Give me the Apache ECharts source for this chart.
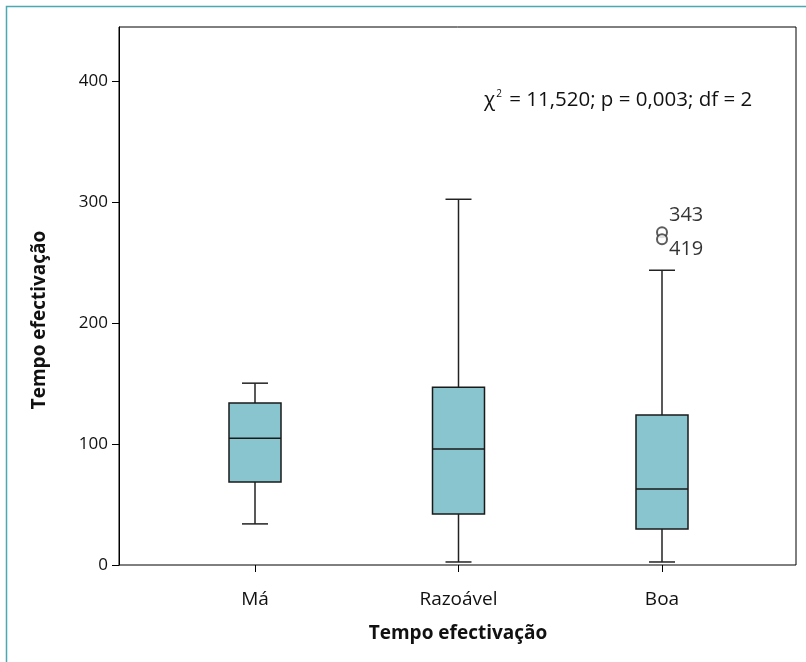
<!DOCTYPE html>
<html>
<head>
<meta charset="utf-8">
<script src="https://cdn.jsdelivr.net/npm/echarts@6/dist/echarts.min.js"></script>
<style>
  html, body { margin: 0; padding: 0; background: #fff; }
  #main { width: 806px; height: 662px; }
</style>
</head>
<body>
<div id="main"></div>
<script>
// box statistics per category
const categories = ['Má', 'Razoável', 'Boa'];
const lowWhisker = [34, 2.5, 2.5];
const q1 = [68.6, 42.1, 29.8];
const median = [104.9, 95.9, 62.8];
const q3 = [133.9, 147.1, 124];
const highWhisker = [150.4, 302.5, 243.8];

// outliers (Boa) with their case numbers
const outlierCat = [2, 2];
const outlierVal = [275.2, 269.4];
const outlierCase = ['343', '419'];

const yTicks = [0, 100, 200, 300, 400];

const FONT = '"Open Sans", "Noto Sans", sans-serif';
const boxData = categories.map((c, i) => [i, lowWhisker[i], q1[i], median[i], q3[i], highWhisker[i]]);

const myChart = echarts.init(document.getElementById('main'));

function renderBox(params, api) {
    const x = api.coord([api.value(0), 0])[0];
    const yLow = api.coord([api.value(0), api.value(1)])[1];
    const yQ1 = api.coord([api.value(0), api.value(2)])[1];
    const yMed = api.coord([api.value(0), api.value(3)])[1];
    const yQ3 = api.coord([api.value(0), api.value(4)])[1];
    const yHigh = api.coord([api.value(0), api.value(5)])[1];
    const half = 26, cap = 13;
    const line = { stroke: '#222', lineWidth: 1.5 };
    return {
        type: 'group',
        children: [
            { type: 'line', shape: { x1: x, y1: yHigh, x2: x, y2: yQ3 }, style: line },
            { type: 'line', shape: { x1: x, y1: yQ1, x2: x, y2: yLow }, style: line },
            { type: 'line', shape: { x1: x - cap, y1: yHigh, x2: x + cap, y2: yHigh }, style: line },
            { type: 'line', shape: { x1: x - cap, y1: yLow, x2: x + cap, y2: yLow }, style: line },
            { type: 'rect', shape: { x: x - half, y: yQ3, width: half * 2, height: yQ1 - yQ3 },
              style: { fill: '#89c5ce', stroke: '#1a1a1a', lineWidth: 1.5 } },
            { type: 'line', shape: { x1: x - half, y1: yMed, x2: x + half, y2: yMed },
              style: { stroke: '#1a1a1a', lineWidth: 1.5 } }
        ]
    };
}

myChart.setOption({
    backgroundColor: '#fff',
    animation: false,
    grid: [
        { left: 119, top: 27, width: 677, height: 538, show: true, borderColor: '#000', borderWidth: 1, containLabel: false },
        { left: 153.25, top: 27, width: 610.5, height: 538, containLabel: false }
    ],
    xAxis: [
        { gridIndex: 0, type: 'value', min: 0, max: 1, show: false },
        {
            gridIndex: 1, type: 'category', data: categories,
            axisLine: { show: false },
            axisTick: { show: true, alignWithLabel: true, length: 7, lineStyle: { color: '#000' } },
            axisLabel: { color: '#111', fontSize: 19, fontFamily: FONT, margin: 25 },
            splitLine: { show: false }
        }
    ],
    yAxis: [
        {
            gridIndex: 0, type: 'value', min: 0, max: 445, interval: 100,
            axisLine: { show: true, lineStyle: { color: '#000' } },
            axisTick: { show: true, length: 7, lineStyle: { color: '#000' }, customValues: yTicks },
            axisLabel: { color: '#111', fontSize: 17, fontFamily: FONT, margin: 11, customValues: yTicks },
            splitLine: { show: false }
        },
        { gridIndex: 1, type: 'value', min: 0, max: 445, show: false }
    ],
    series: [
        {
            type: 'custom', xAxisIndex: 1, yAxisIndex: 1,
            renderItem: renderBox,
            encode: { x: 0, y: [1, 2, 3, 4, 5] },
            data: boxData
        },
        {
            type: 'scatter', xAxisIndex: 1, yAxisIndex: 1,
            symbol: 'emptyCircle', symbolSize: 10,
            itemStyle: { color: '#333', borderColor: '#333', borderWidth: 1 },
            z: 5,
            data: outlierVal.map((v, i) => ({
                value: [outlierCat[i], v],
                label: {
                    show: true, position: 'right', distance: 1,
                    offset: [0, i === 0 ? -17 : 10],
                    formatter: outlierCase[i],
                    color: '#000', fontSize: 20, fontFamily: FONT
                }
            }))
        }
    ],
    graphic: [
        // teal frame of the figure
        { type: 'polyline', shape: { points: [[6.5, 662], [6.5, 6.5], [806, 6.5]] },
          style: { fill: null, stroke: '#4aa9b1', lineWidth: 1.5 } },
        { type: 'text', x: 458, y: 634,
          style: { text: 'Tempo efectivação', fill: '#111', font: 'bold 19px ' + FONT, textAlign: 'center', textVerticalAlign: 'middle' } },
        { type: 'text', x: 40, y: 320, rotation: Math.PI / 2,
          style: { text: 'Tempo efectivação', fill: '#111', font: 'bold 19px ' + FONT, textAlign: 'center', textVerticalAlign: 'middle' } },
        { type: 'text', x: 484, y: 100,
          style: {
              text: '{a|χ}{s|2}{a| = 11,520; p = 0,003; df = 2}',
              textVerticalAlign: 'middle',
              rich: {
                  a: { fill: '#111', fontSize: 20.5, fontFamily: FONT },
                  s: { fill: '#111', fontSize: 10, fontFamily: FONT, verticalAlign: 'top', padding: [0, 2, 0, 1] }
              }
          } }
    ]
});
</script>
</body>
</html>
